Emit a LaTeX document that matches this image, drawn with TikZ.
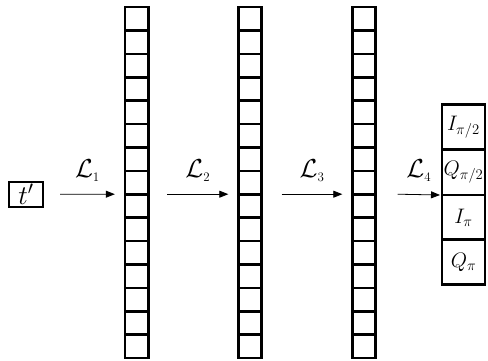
\RequirePackage{fix-cm}
\documentclass[tikz,border=0pt]{standalone}
\usetikzlibrary{arrows.meta}

\begin{document}
\begin{tikzpicture}[x=1pt, y=-1pt,
    cell/.style={draw, line width=2.6pt, minimum size=23.4pt, inner sep=0pt, outer sep=0pt},
    outbox/.style={draw, line width=2.2pt, minimum width=43pt, minimum height=45pt, inner sep=0pt, outer sep=0pt, font=\fontsize{21}{24}\selectfont},
    inbox/.style={draw, line width=1.8pt, minimum width=34pt, minimum height=25pt, inner sep=0pt, outer sep=0pt, font=\fontsize{27}{30}\selectfont},
    flow/.style={-{Triangle[length=9pt, width=7pt]}, line width=0.8pt},
    lbl/.style={above=9pt, font=\fontsize{26}{30}\selectfont}
]
\useasboundingbox (0,0) rectangle (488,360);

\node[inbox] (tin) at (26,194.2) {$t'$};

% three layers of 15 cells
\foreach \c/\x in {1/136.5, 2/250, 3/364}
  \foreach \r in {1,...,15}
    \node[cell] (c\c-\r) at (\x, 23.4*\r-4.7) {};

\node[outbox] (ipi2) at (463.5,127) {$I_{\pi/2}$};
\node[outbox] (qpi2) at (463.5,172.5) {$Q_{\pi/2}$};
\node[outbox] (ipi) at (463.5,217.5) {$I_{\pi}$};
\node[outbox] (qpi) at (463.5,262) {$Q_{\pi}$};

\draw[flow] ([xshift=17pt]tin.east) -- node[lbl]{$\mathcal{L}_{\scriptscriptstyle 1}$} ([xshift=-10pt]c1-8.south west);
\draw[flow] ([xshift=19pt]c1-8.south east) -- node[lbl]{$\mathcal{L}_{\scriptscriptstyle 2}$} ([xshift=-10pt]c2-8.south west);
\draw[flow] ([xshift=20pt]c2-8.south east) -- node[lbl]{$\mathcal{L}_{\scriptscriptstyle 3}$} ([xshift=-10pt]c3-8.south west);
\draw[flow] ([xshift=22pt]c3-8.south east) -- node[lbl]{$\mathcal{L}_{\scriptscriptstyle 4}$} ([xshift=-2pt]ipi.north west);
\end{tikzpicture}
\end{document}
